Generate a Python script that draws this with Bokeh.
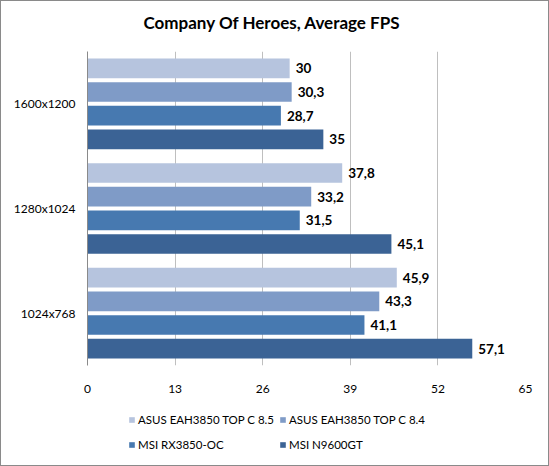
from bokeh.plotting import figure
from bokeh.layouts import column
from bokeh.models import Range1d, FactorRange, FixedTicker, ColumnDataSource, Legend, LegendItem
from bokeh.transform import dodge
from bokeh.core.properties import value
from bokeh.embed import file_html
from bokeh.resources import INLINE

title = "Company Of Heroes, Average FPS"
resolutions = ["1600x1200", "1280x1024", "1024x768"]
series_names = ["ASUS EAH3850 TOP C 8.5", "ASUS EAH3850 TOP C 8.4", "MSI RX3850-OC", "MSI N9600GT"]
asus_85 = [30.0, 37.8, 45.9]
asus_84 = [30.3, 33.2, 43.3]
msi_rx3850 = [28.7, 31.5, 41.1]
msi_n9600 = [35.0, 45.1, 57.1]
x_ticks = [0, 13, 26, 39, 52, 65]

series_values = [asus_85, asus_84, msi_rx3850, msi_n9600]
colors = ["#B6C4DE", "#7F9BC7", "#4779B0", "#3B6395"]
offsets = [0.339, 0.113, -0.113, -0.339]
FONT = "Lato"


def strip(height):
    f = figure(width=547, height=height, output_backend="svg", toolbar_location=None,
               x_range=Range1d(0, 1), y_range=Range1d(0, 1),
               min_border_left=86, min_border_right=23, min_border_top=0, min_border_bottom=0)
    f.axis.visible = False
    f.grid.visible = False
    f.outline_line_color = None
    f.background_fill_color = "white"
    f.border_fill_color = "white"
    return f


# title strip
tf = strip(50)
tf.title.text = title
tf.title.align = "left"
tf.title.offset = 56
tf.title.text_font = FONT
tf.title.text_font_size = "17px"
tf.title.text_font_style = "bold"
tf.title.text_color = "black"
tf.title.standoff = 16

# main chart
p = figure(width=547, height=350, output_backend="svg", toolbar_location=None,
           y_range=FactorRange(factors=list(reversed(resolutions))),
           x_range=Range1d(0, 65),
           min_border_left=86, min_border_right=23, min_border_top=0, min_border_bottom=36)
p.outline_line_color = None
p.background_fill_color = "white"
p.border_fill_color = "white"

for name, vals, col, off in zip(series_names, series_values, colors, offsets):
    src = ColumnDataSource(dict(res=resolutions, v=vals,
                                lab=[f"{v:g}".replace(".", ",") for v in vals]))
    p.hbar(y=dodge("res", off, range=p.y_range), right="v", left=0, height=0.188,
           source=src, fill_color=col, line_color=None)
    p.text(x="v", y=dodge("res", off, range=p.y_range), text="lab", source=src,
           x_offset=6, text_baseline="middle", text_align="left",
           text_font=value(FONT), text_font_style="bold", text_font_size="13.5px",
           text_color="black")

p.xaxis.ticker = FixedTicker(ticks=x_ticks)
p.xaxis.axis_line_color = None
p.xaxis.major_tick_line_color = None
p.xaxis.major_tick_out = 0
p.xaxis.major_tick_in = 0
p.xaxis.minor_tick_line_color = None
p.xaxis.major_label_standoff = 19
p.xaxis.major_label_text_font = FONT
p.xaxis.major_label_text_font_size = "12px"
p.xaxis.major_label_text_color = "black"

p.yaxis.axis_line_color = "#8a8a8a"
p.yaxis.major_tick_line_color = None
p.yaxis.major_tick_out = 0
p.yaxis.major_tick_in = 0
p.yaxis.minor_tick_line_color = None
p.yaxis.major_label_standoff = 12
p.yaxis.major_label_text_font = FONT
p.yaxis.major_label_text_font_size = "12px"
p.yaxis.major_label_text_color = "black"

p.xgrid.grid_line_color = "#BFBFBF"
p.ygrid.grid_line_color = None

# legend strip (legend proxies sit outside the visible range)
lf = strip(64)
proxies = {}
for name, col in zip(series_names, colors):
    proxies[name] = lf.hbar(y=[-5], right=[1], left=0, height=0.5, fill_color=col, line_color=None)
legend_order = [series_names[0], series_names[2], series_names[1], series_names[3]]
items = [LegendItem(label=n, renderers=[proxies[n]]) for n in legend_order]
legend = Legend(items=items, ncols=2, location=(41, 11),
                glyph_width=7, glyph_height=7, label_standoff=3, label_width=20,
                label_height=20, spacing=5, padding=0, margin=0,
                border_line_color=None, background_fill_alpha=0,
                label_text_font=FONT, label_text_font_size="11.5px", label_text_color="black")
lf.add_layout(legend, "center")

layout = column(tf, p, lf, spacing=0)
layout.styles = {"border": "1px solid #8a8a8a", "background-color": "white"}

open("out.html", "w").write(file_html(layout, INLINE))
